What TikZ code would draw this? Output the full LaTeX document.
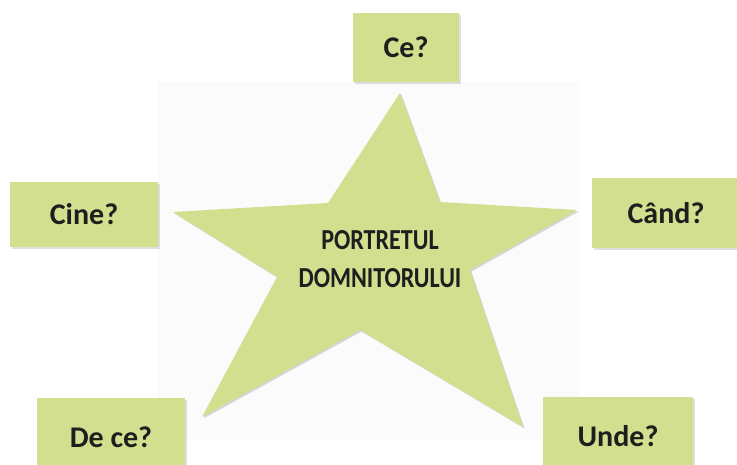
\documentclass[tikz,border=0pt]{standalone}
\usepackage{fontspec}
\setmainfont{Carlito}
\usepackage{tikz}
\usetikzlibrary{shadows,calc}
\definecolor{leaf}{RGB}{210,223,142}
\definecolor{ink}{RGB}{30,30,30}

\begin{document}
\begin{tikzpicture}[x=1pt, y=-1pt,
 every text node part/.style={align=center},
 qbox/.style={rectangle, inner sep=0pt, fill=leaf, font=\fontsize{30}{34}\selectfont\bfseries, text=ink,
   drop shadow={shadow xshift=2pt, shadow yshift=-2pt, opacity=0.25}},
 title/.style={inner sep=0pt, font=\fontsize{29}{38}\selectfont\bfseries, text=ink}]

\useasboundingbox (0,0) rectangle (737,465);
\clip (0,0) rectangle (737,465);

% faint backdrop behind the star
\fill[black!1.5] (158,82) rectangle (580,440);

\coordinate (top) at (400,93);
\coordinate (ur) at (440,202);
\coordinate (right) at (577,210);
\coordinate (lr) at (470,270);
\coordinate (br) at (523,427);
\coordinate (bot) at (360,330);
\coordinate (bl) at (202,417);
\coordinate (ll) at (277,277);
\coordinate (left) at (173,212);
\coordinate (ul) at (328,203);

\fill[leaf, drop shadow={shadow xshift=1.5pt, shadow yshift=-1.5pt, opacity=0.3}]
  (top) -- (ur) -- (right) -- (lr) -- (br) -- (bot) -- (bl) -- (ll) -- (left) -- (ul) -- cycle;

\node[title] (portret) at (380,259) {\scalebox{0.83}[1]{PORTRETUL}\\\scalebox{0.83}[1]{DOMNITORULUI}};

\node[qbox, minimum width=106pt, minimum height=69pt] (ce) at (406,47.5) {Ce?};
\node[qbox, minimum width=148pt, minimum height=65pt] (cine) at (84,214.5) {Cine?};
\node[qbox, minimum width=148pt, minimum height=70pt] (cand) at (666,213) {Când?};
\node[qbox, minimum width=148pt, minimum height=78pt] (dece) at (111,437) {De ce?};
\node[qbox, minimum width=150pt, minimum height=78pt] (unde) at (618,436) {Unde?};

\end{tikzpicture}
\end{document}
